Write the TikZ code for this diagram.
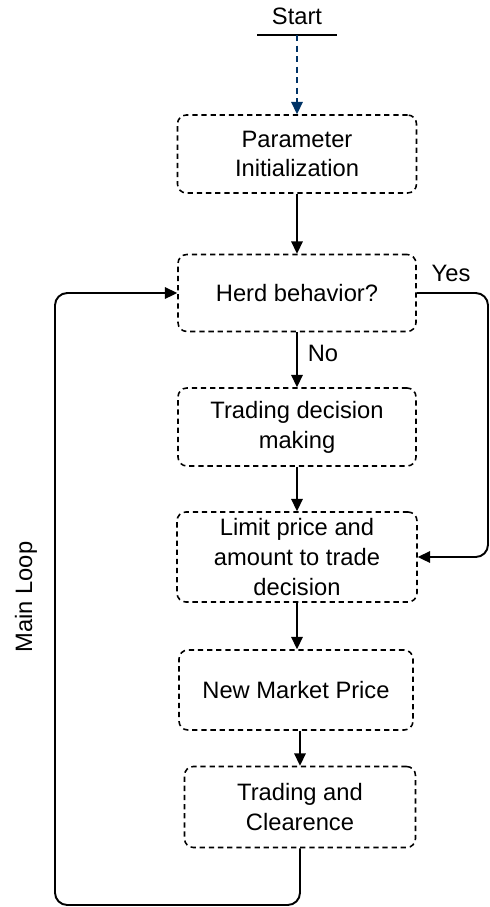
\documentclass[tikz,border=0pt]{standalone}
\usepackage{fontspec}
\setmainfont{Liberation Sans}
\usetikzlibrary{arrows.meta}

\definecolor{startblue}{RGB}{0,51,102}

\tikzset{
  stepbox/.style={draw, dash pattern=on 3pt off 2.2pt, rounded corners=5pt, line width=0.9pt,
    align=center, font=\fontsize{13.5}{17}\selectfont, inner sep=0pt},
  flow/.style={line width=1.1pt, -{Triangle[length=7pt,width=6.5pt]}},
  lbl/.style={font=\fontsize{13.5}{17}\selectfont}
}

\begin{document}
\begin{tikzpicture}[x=0.02cm, y=-0.02cm]
    \useasboundingbox (0,0) rectangle (490,907);

    % Start
    \node[lbl] (start) at (297,16) {Start};
    \draw[line width=1.1pt] (257,35) -- (337,35);
    \coordinate (startline) at (297,35);

    % Boxes
    \node[stepbox, minimum width=4.78cm, minimum height=1.56cm] (init) at (297,154) {Parameter\\Initialization};
    \node[stepbox, minimum width=4.76cm, minimum height=1.54cm] (herd) at (297,293) {Herd behavior?};
    \node[stepbox, minimum width=4.76cm, minimum height=1.56cm] (decide) at (297,427) {Trading decision\\making};
    \node[stepbox, minimum width=4.80cm, minimum height=1.80cm] (limit) at (297,557) {Limit price and\\amount to trade\\decision};
    \node[stepbox, minimum width=4.68cm, minimum height=1.60cm] (price) at (296,690) {New Market Price};
    \node[stepbox, minimum width=4.62cm, minimum height=1.62cm] (clear) at (300,807) {Trading and\\Clearence};

    % Connectors
    \draw[flow, dash pattern=on 3.5pt off 2.5pt, startblue] (startline) -- (init.north);
    \draw[flow] (init) -- (herd);
    \draw[flow] (herd) -- (decide);
    \draw[flow] (decide) -- (limit);
    \draw[flow] (limit.south) -- (limit.south |- price.north);
    \draw[flow] (price.south -| clear.north) -- (clear.north);

    % Yes branch
    \coordinate (yesright) at (488,0);
    \draw[flow, rounded corners=7pt] (herd.east) -| (yesright |- limit.east) -- (limit.east);

    % Main loop
    \coordinate (loopbot) at (55,905);
    \draw[flow, rounded corners=7pt] (clear.south) |- (loopbot) |- (herd.west);

    % Labels
    \node[lbl] (yes) at (451,273) {Yes};
    \node[lbl] (no) at (323,353) {No};
    \node[lbl, rotate=90] (mainloop) at (26,597) {Main Loop};
\end{tikzpicture}
\end{document}
